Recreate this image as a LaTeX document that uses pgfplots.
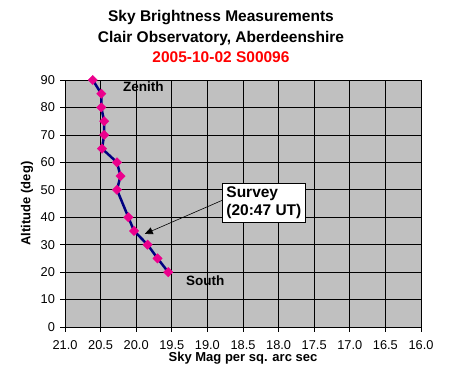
\documentclass[border=0pt]{standalone}
\usepackage{pgfplots}
\pgfplotsset{compat=1.18}
\usepackage{fontspec}
\setmainfont{Liberation Sans}
\usetikzlibrary{arrows.meta}
\definecolor{navy}{HTML}{000080}
\definecolor{plotgray}{HTML}{C0C0C0}
\begin{document}
\begin{tikzpicture}[x=1pt,y=1pt]
\path[use as bounding box] (0,0) rectangle (450,378);
\node[font=\fontsize{15.5}{19}\selectfont\bfseries] at (221,360) {Sky Brightness Measurements};
\node[font=\fontsize{15.5}{19}\selectfont\bfseries] at (221,340) {Clair Observatory, Aberdeenshire};
\node[font=\fontsize{15.5}{19}\selectfont\bfseries, text=red] at (221,321) {2005-10-02 S00096};
\begin{axis}[
  at={(65pt,51pt)}, anchor=south west,
  scale only axis, width=356pt, height=247pt,
  x dir=reverse,
  xmin=16, xmax=21, ymin=0, ymax=90,
  xtick={16,16.5,...,21}, ytick={0,10,...,90},
  grid=major, major grid style={black, line width=0.6pt},
  axis background/.style={fill=plotgray},
  axis line style={black, line width=0.6pt},
  tick align=outside, tick pos=left,
  major tick length=4.5pt,
  every tick/.style={black, line width=0.6pt},
  /pgf/number format/assume math mode=true,
  xticklabel={\pgfmathprintnumber[fixed,fixed zerofill,precision=1]{\tick}},
  ticklabel style={font=\fontsize{12.8}{14}\selectfont},
  xticklabel style={yshift=-8pt, inner sep=0.5pt},
  yticklabel style={xshift=-2pt},
  xlabel={Sky Mag per sq. arc sec},
  ylabel={Altitude (deg)},
  label style={font=\fontsize{13}{15}\selectfont\bfseries},
  xlabel style={at={(axis description cs:0.5,0)}, anchor=center, yshift=-31pt, inner sep=0.5pt},
  ylabel style={at={(axis description cs:-0.1067,0.5)}, anchor=center},
  clip=false,
]
\addplot[navy, line width=2.5pt, mark=square*, mark size=3.3pt,
  mark options={rotate=45, fill=magenta, draw=magenta, line width=0.4pt, solid}]
  coordinates {
  (20.61,90) (20.49,85) (20.49,80) (20.45,75) (20.45,70) (20.48,65)
  (20.27,60) (20.22,55) (20.27,50) (20.11,40) (20.03,35) (19.84,30)
  (19.70,25) (19.55,20)
  };
\node[font=\fontsize{13.5}{15}\selectfont\bfseries] at (axis cs:19.9,87.7) {Zenith};
\node[font=\fontsize{13.5}{15}\selectfont\bfseries, anchor=west] at (axis cs:19.35,17) {South};
\draw[black, line width=0.6pt, -{Triangle[length=8pt,width=7pt]}] (axis cs:18.78,46.3) -- (axis cs:19.88,33.9);
\node[draw=black, fill=white, line width=0.8pt, anchor=north west, align=left,
  font=\fontsize{15.5}{18.5}\selectfont\bfseries, inner sep=3pt,
  minimum width=83pt, minimum height=39pt] at (axis cs:18.795,52.5) {Survey\\(20:47 UT)};
\end{axis}
\end{tikzpicture}
\end{document}
